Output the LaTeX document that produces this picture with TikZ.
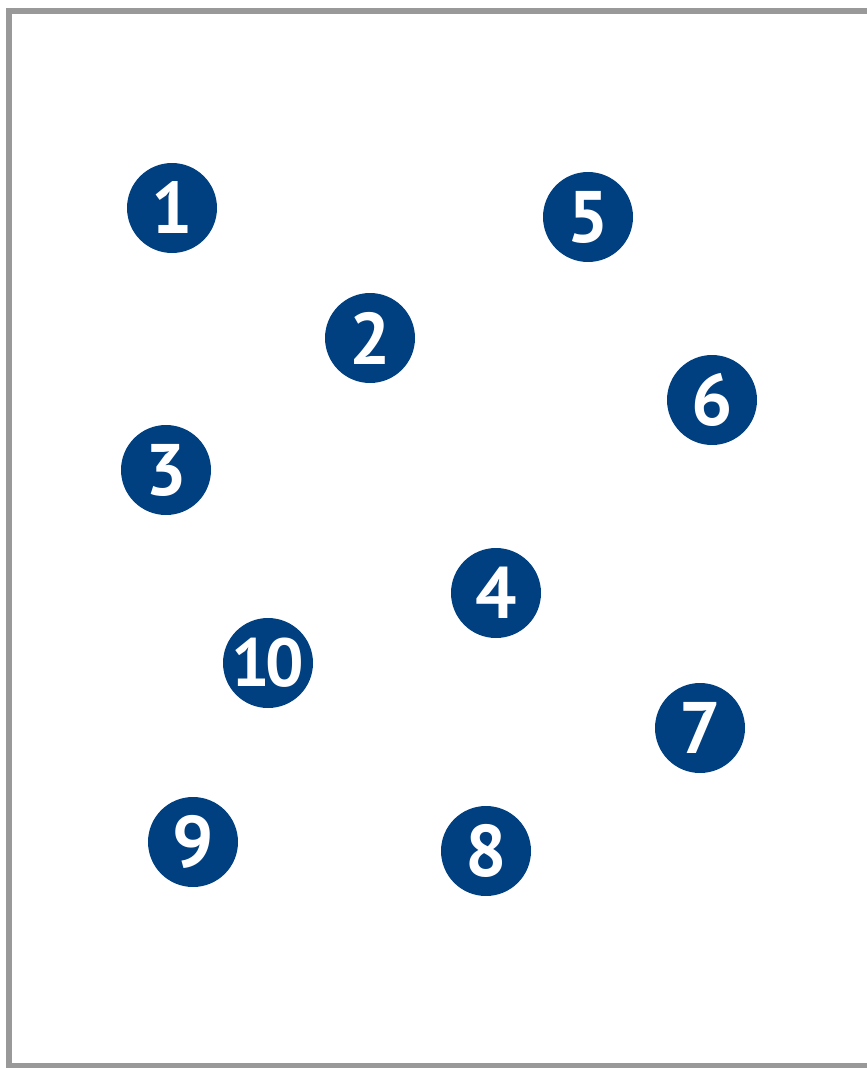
\documentclass[tikz,border=0pt]{standalone}
\usepackage{fontspec}
\newfontfamily\markfont{PT Sans}
\usepackage{tikz}
\definecolor{markblue}{RGB}{0,64,128}
\definecolor{framegray}{RGB}{153,153,153}

\begin{document}
\begin{tikzpicture}[x=1pt,y=-1pt,
  spot/.style={circle,fill=markblue,text=white,minimum size=90pt,inner sep=-8pt,
    font=\markfont\bfseries\fontsize{73}{73}\selectfont},
  frame/.style={draw=framegray,line width=6pt}]
\useasboundingbox (0,0) rectangle (867,1068);
\clip (0,0) rectangle (867,1068);
\draw[frame] (880,11) -- (9,11) -- (9,1065.5) -- (880,1065.5);
\node[spot] (n1) at (172,208) {1};
\node[spot] (n5) at (588,217) {5};
\node[spot] (n2) at (370,338) {2};
\node[spot] (n6) at (712,400) {6};
\node[spot] (n3) at (166,470) {3};
\node[spot] (n4) at (496,593) {4};
\node[spot,font=\markfont\bfseries\fontsize{68}{68}\selectfont] (n10) at (268,663) {1\kern-5pt0};
\node[spot] (n7) at (700,728) {7};
\node[spot] (n9) at (193,842) {9};
\node[spot] (n8) at (486,851) {8};
\end{tikzpicture}
\end{document}
